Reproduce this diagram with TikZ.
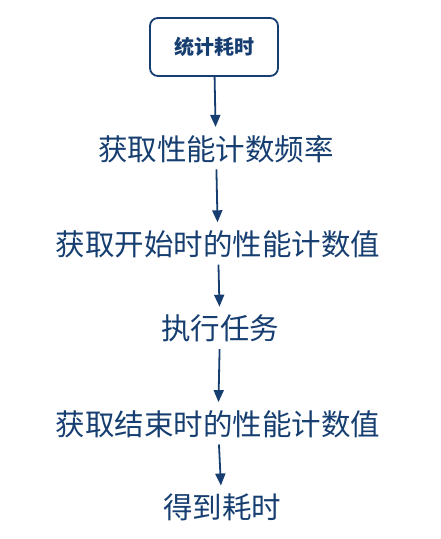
\documentclass[tikz,border=0pt]{standalone}
\usepackage{fontspec}
\newfontfamily\cjk{Noto Sans CJK SC}
\usetikzlibrary{positioning,arrows.meta}
\definecolor{flowblue}{RGB}{22,62,112}

\begin{document}
\begin{tikzpicture}[
  x=1pt, y=1pt,
  font=\cjk,
  start/.style={rounded corners=8pt, draw=flowblue, line width=1.8pt, minimum width=128pt, minimum height=58pt, text=flowblue, font=\cjk\bfseries\fontsize{20}{23}\selectfont},
  stage/.style={inner sep=0pt, text height=25pt, text depth=3pt, text=flowblue, font=\cjk\fontsize{29.5}{33}\selectfont},
  arr/.style={-{Triangle[width=10pt,length=12pt]}, line width=1.8pt, draw=flowblue, shorten <=6pt, shorten >=8pt}
]
\useasboundingbox (0,0) rectangle (441,-539);
\node[start] (tj) at (214,-47) {统计耗时};
\node[stage, below=58pt of tj, xshift=2pt] (pl) {获取性能计数频率};
\node[stage, below=67pt of pl, xshift=2pt] (ks) {获取开始时的性能计数值};
\node[stage, below=56pt of ks, xshift=2pt] (rw) {执行任务};
\node[stage, below=67pt of rw, xshift=-2pt] (js) {获取结束时的性能计数值};
\node[stage, below=55pt of js, xshift=4pt] (hs) {得到耗时};
\draw[arr, shorten <=0pt] (tj) -- (pl);
\draw[arr] (pl) -- (ks);
\draw[arr] (ks) -- (rw);
\draw[arr] (rw) -- (js);
\draw[arr] (js) -- (hs);
\end{tikzpicture}
\end{document}
